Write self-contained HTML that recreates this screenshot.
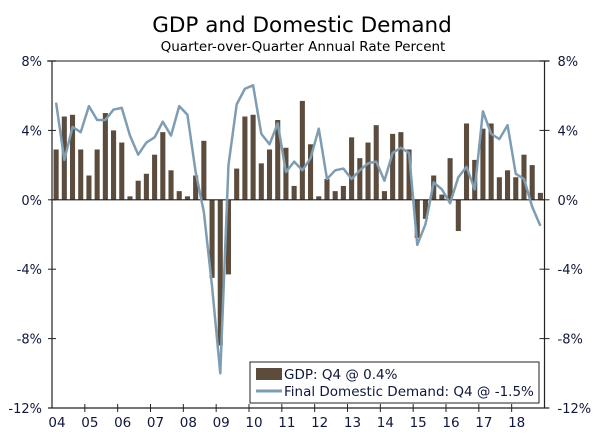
<!DOCTYPE html>
<html><head><meta charset="utf-8"><style>
body{margin:0;background:#fff;}
svg text{font-family:"DejaVu Sans","Liberation Sans",sans-serif;fill:#10183a;}
</style></head><body>
<svg id="chart" width="600" height="442" viewBox="0 0 600 442" xmlns="http://www.w3.org/2000/svg">
<text x="302" y="32" font-size="21.5" text-anchor="middle" style="fill:#000">GDP and Domestic Demand</text>
<text x="303" y="51" font-size="13.5" text-anchor="middle" style="fill:#000">Quarter-over-Quarter Annual Rate Percent</text>
<g id="plot"></g>
</svg>
<script>
const years = ["04","05","06","07","08","09","10","11","12","13","14","15","16","17","18"];
const yTicks = [8,4,0,-4,-8,-12];
const gdp = [2.9,4.8,4.9,2.9, 1.4,2.9,5.0,4.0, 3.3,0.2,1.1,1.5, 2.6,3.9,1.7,0.5, 0.2,1.4,3.4,-4.5, -8.4,-4.3,1.8,4.8, 4.9,2.1,2.9,4.6, 3.0,0.8,5.7,3.2, 0.2,1.2,0.5,0.8, 3.6,2.4,3.3,4.3, 0.5,3.8,3.9,2.9, -2.2,-1.1,1.4,0.3, 2.4,-1.8,4.4,2.3, 4.1,4.4,1.3,1.7, 1.3,2.6,2.0,0.4];
const fdd = [5.6,2.3,4.2,3.9, 5.4,4.6,4.6,5.2, 5.3,3.7,2.6,3.3, 3.6,4.5,3.7,5.4, 4.9,1.6,-0.7,-5.0, -10.0,2.0,5.5,6.4, 6.6,3.8,3.2,4.4, 1.6,2.2,1.7,2.4, 4.1,1.2,1.7,1.8, 1.2,1.7,2.1,2.2, 1.1,2.7,3.0,2.7, -2.6,-1.4,1.0,0.6, -0.2,1.3,1.9,0.6, 5.1,3.8,3.5,4.3, 1.5,1.2,-0.4,-1.5];
const L=52,R=544.5,T=61,B=408,yMin=-12,yMax=8;
const n=gdp.length, step=(R-L)/n;
const y=v=>T+(yMax-v)/(yMax-yMin)*(B-T);
const xc=i=>L+(i+0.5)*step;
const NS="http://www.w3.org/2000/svg";
const g=document.getElementById('plot');
function mk(tag,attrs){const e=document.createElementNS(NS,tag);for(const k in attrs)e.setAttribute(k,attrs[k]);g.appendChild(e);return e;}
let top1=mk('line',{x1:L-5,x2:R+5,y1:T,y2:T,stroke:'#666','stroke-width':1.5});


let la=mk('line',{x1:L,x2:L,y1:T,y2:B,stroke:'#222','stroke-width':1.2});


let ra=mk('line',{x1:R,x2:R,y1:T,y2:B,stroke:'#222','stroke-width':1.2});


let ba=mk('line',{x1:L-4,x2:R+4,y1:B,y2:B,stroke:'#222','stroke-width':1.2});


yTicks.forEach(t=>{
  const yy=y(t);
  let a=mk('line',{x1:L-4,x2:L+4,y1:yy,y2:yy,stroke:'#222'});
  
  
  let b=mk('line',{x1:R-5,x2:R+5,y1:yy,y2:yy,stroke:'#222'});
  
  
  let tl=mk('text',{x:L-10,y:yy+5,'font-size':13,'text-anchor':'end'});tl.textContent=t+'%';
  
  
  let tr=mk('text',{x:R+13,y:yy+5,'font-size':13,'text-anchor':'start'});tr.textContent=t+'%';
  
  
});
years.forEach((yr,i)=>{
  const x0=L+i*4*step;
  if(i>0){
  let tk=mk('line',{x1:x0,x2:x0,y1:B-4,y2:B+4,stroke:'#222'});
  
  
  }
  let tx=mk('text',{x:x0+5,y:B+19,'font-size':13.5,'text-anchor':'middle'});tx.textContent=yr;
  
  
});
gdp.forEach((v,i)=>{
  const w=step*0.62;
  let r=mk('rect',{x:xc(i)-w/2,y:Math.min(y(v),y(0)),width:w,height:Math.abs(y(v)-y(0)),fill:'#5b4c3e'});
  
  
});
let z=mk('line',{x1:L,x2:R,y1:y(0),y2:y(0),stroke:'#222','stroke-width':1.2});


let p=mk('polyline',{points:fdd.map((v,i)=>xc(i)+','+y(v)).join(' '),fill:'none',stroke:'#7f9db2','stroke-width':2.5,'stroke-linejoin':'round'});


let lg=mk('rect',{x:250,y:362,width:289,height:41,fill:'#fff',stroke:'#222'});


let s1=mk('rect',{x:256,y:368,width:26,height:12,fill:'#5b4c3e'});


let t1=mk('text',{x:284,y:379,'font-size':13.5});t1.textContent='GDP: Q4 @ 0.4%';


let s2=mk('line',{x1:256,x2:282,y1:391,y2:391,stroke:'#7f9db2','stroke-width':3});


let t2=mk('text',{x:284,y:396,'font-size':13.5});t2.textContent='Final Domestic Demand: Q4 @ -1.5%';


</script>
</body></html>
